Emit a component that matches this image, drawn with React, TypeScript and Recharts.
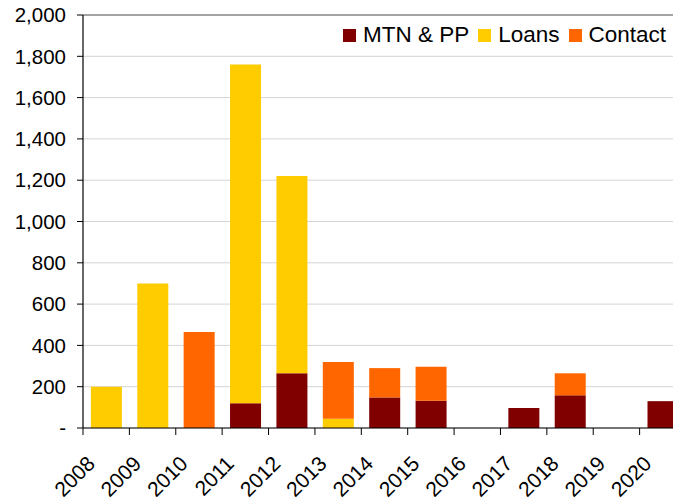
import React from "react";
import {
  BarChart,
  Bar,
  XAxis,
  YAxis,
  CartesianGrid,
  ReferenceLine,
} from "recharts";

const YEARS = ["2008", "2009", "2010", "2011", "2012", "2013", "2014", "2015", "2016", "2017", "2018", "2019", "2020"];
const MTN_PP = [0, 0, 0, 120, 265, 0, 148, 132, 0, 97, 158, 0, 130];
const LOANS = [200, 700, 0, 1640, 955, 45, 0, 0, 0, 0, 0, 0, 0];
const CONTACT = [0, 0, 465, 0, 0, 275, 142, 165, 0, 0, 107, 0, 0];
const Y_TICKS = [0, 200, 400, 600, 800, 1000, 1200, 1400, 1600, 1800, 2000];

const SERIES = [
  { key: "mtn", name: "MTN & PP", color: "#800000" },
  { key: "loans", name: "Loans", color: "#FFCC00" },
  { key: "contact", name: "Contact", color: "#FF6600" },
];

const data = YEARS.map((year, i) => ({
  year,
  mtn: MTN_PP[i],
  loans: LOANS[i],
  contact: CONTACT[i],
}));

const FONT = "'Liberation Sans', Arial, sans-serif";

const formatY = (v: number) => (v === 0 ? "-" : v.toLocaleString("en-US"));

// ticks sit between categories, labels rotated under each bar
const YearTick = (props: any) => {
  const { x, y, payload } = props;
  const half = payload?.offset ?? 23.2;
  const axisY = y - 8;
  const tx = x - 10;
  const ty = axisY + 37;
  return (
    <g>
      <line x1={x - half} x2={x - half} y1={axisY} y2={axisY + 7} stroke="#000" strokeWidth={1} />
      <text
        x={tx}
        y={ty}
        textAnchor="end"
        fontSize={21}
        fontFamily={FONT}
        fill="#000"
        transform={`rotate(-45, ${tx}, ${ty})`}
      >
        {payload.value}
      </text>
    </g>
  );
};

const ChartLegend = () => (
  <div
    style={{
      position: "absolute",
      top: 22,
      left: 343,
      display: "flex",
      alignItems: "center",
      fontFamily: FONT,
      fontSize: 22.5,
      color: "#000",
      whiteSpace: "nowrap",
    }}
  >
    {SERIES.map((s) => (
      <div key={s.key} style={{ display: "flex", alignItems: "center", marginRight: 9 }}>
        <span style={{ width: 13, height: 13, background: s.color, display: "inline-block", marginRight: 7 }} />
        <span>{s.name}</span>
      </div>
    ))}
  </div>
);

export default function App() {
  return (
    <div style={{ position: "absolute", top: 0, left: 0, width: 673, height: 500, overflow: "hidden", background: "#fff" }}>
      <BarChart
        width={690}
        height={500}
        data={data}
        margin={{ top: 15, right: 4, left: 0, bottom: 0 }}
        barCategoryGap="17%"
      >
        <CartesianGrid vertical={false} stroke="#d4d4d4" strokeWidth={1} />
        <ReferenceLine y={2000} stroke="#8c8c8c" strokeWidth={1.5} />
        <XAxis
          dataKey="year"
          height={72}
          interval={0}
          axisLine={{ stroke: "#000", strokeWidth: 1.2 }}
          tickLine={false}
          tick={<YearTick />}
        />
        <YAxis
          width={83}
          domain={[0, 2000]}
          ticks={Y_TICKS}
          interval={0}
          tickFormatter={formatY}
          axisLine={{ stroke: "#000", strokeWidth: 1.2 }}
          tickLine={{ stroke: "#000" }}
          tickSize={6}
          tickMargin={11}
          tick={{ fontSize: 20.5, fontFamily: FONT, fill: "#000" }}
        />
        {SERIES.map((s) => (
          <Bar key={s.key} dataKey={s.key} name={s.name} stackId="a" fill={s.color} isAnimationActive={false} />
        ))}
      </BarChart>
      <ChartLegend />
    </div>
  );
}
